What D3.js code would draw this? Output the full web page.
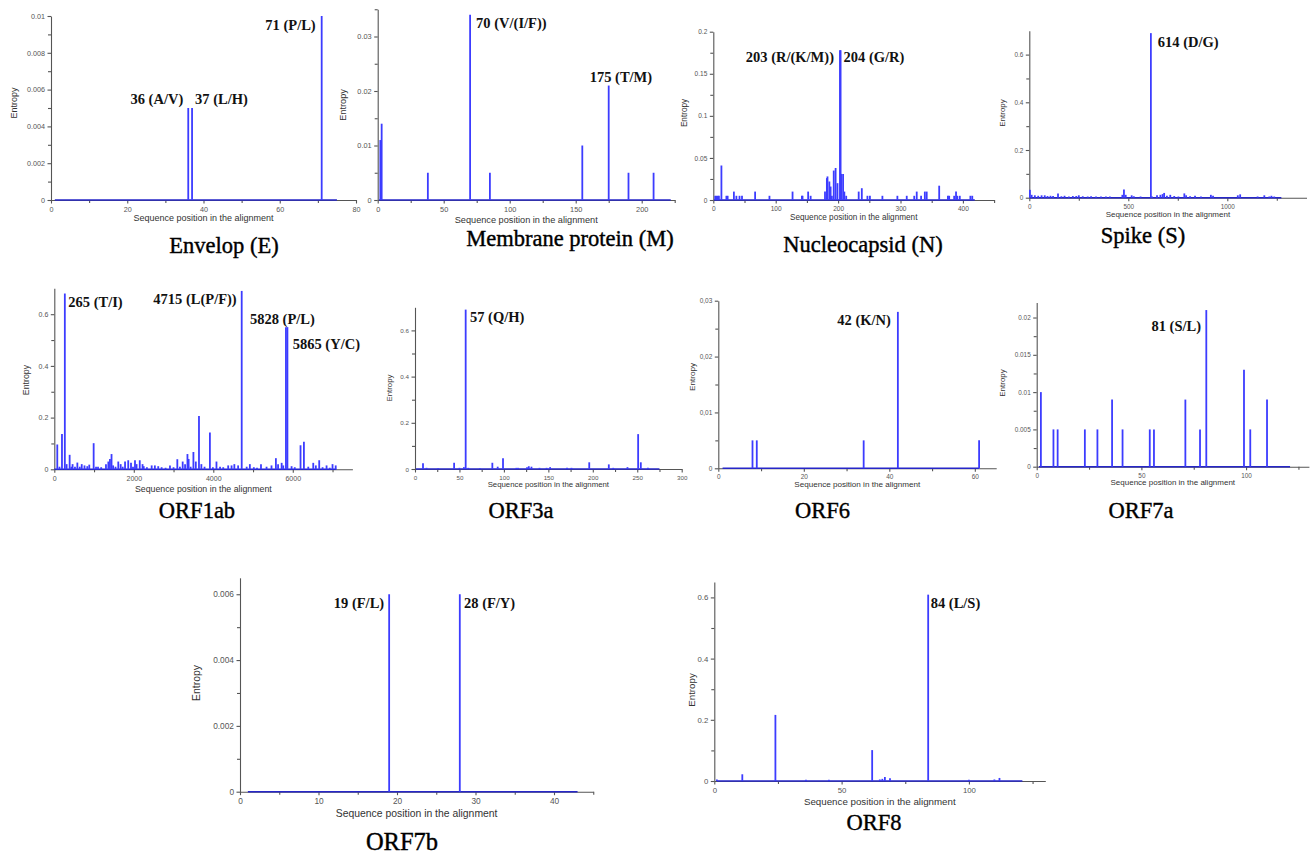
<!DOCTYPE html>
<html>
<head>
<meta charset="utf-8">
<script src="https://cdn.jsdelivr.net/npm/d3@7"></script>
<style>
  body { margin: 0; background: #fff; }
  svg { display: block; background: #fff; }
  .axis path, .axis line { stroke: #555; stroke-width: 1.1; }
  .axis text { font-family: "Liberation Sans", Arial, sans-serif; fill: #555; }
  .axis-label { font-family: "Liberation Sans", Arial, sans-serif; fill: #333; }
  .site-label { font-family: "Liberation Serif", "Times New Roman", serif; font-weight: bold; fill: #111; }
  .title { font-family: "Liberation Serif", "Times New Roman", serif; fill: #000; stroke: #000; stroke-width: 0.4; }
  .bar { stroke: #3c3cff; stroke-width: 1.8; }
  .zero { stroke: #2626c8; stroke-width: 1.5; }
</style>
</head>
<body>
<svg id="fig" width="1311" height="857"></svg>
<script>
// ---------- data (entropy per alignment position) ----------
const eSites = [36, 37, 71];
const eEntropy = [0.005, 0.005, 0.01];
const eLength = 75;
const eLabels = ["36 (A/V)", "37 (L/H)", "71 (P/L)"];
const eLabelSites = [36, 37, 71];

const mSites = [2, 3, 38, 70, 85, 155, 175, 190, 209];
const mEntropy = [0.011, 0.014, 0.005, 0.034, 0.005, 0.010, 0.021, 0.005, 0.005];
const mLength = 222;
const mLabels = ["70 (V/(I/F))", "175 (T/M)"];
const mLabelSites = [70, 175];

const nSites = [3, 5, 7, 9, 13, 21, 23, 33, 37, 42, 46, 67, 90, 127, 142, 143, 152, 156, 179, 182,
  183, 186, 188, 190, 193, 196, 199, 203, 204, 205, 208, 210, 213, 233, 238, 247, 251, 271, 295, 310,
  322, 326, 333, 339, 342, 362, 376, 378, 386, 389, 391, 395, 412, 415];
const nEntropy = [0.005, 0.005, 0.005, 0.005, 0.041, 0.005, 0.005, 0.01, 0.005, 0.005, 0.005, 0.01, 0.005, 0.01, 0.005, 0.005, 0.01, 0.005, 0.01, 0.026,
  0.028, 0.022, 0.016, 0.005, 0.035, 0.038, 0.02, 0.178, 0.178, 0.031, 0.031, 0.01, 0.005, 0.01, 0.014, 0.005, 0.005, 0.005, 0.005, 0.005,
  0.005, 0.01, 0.005, 0.01, 0.01, 0.017, 0.005, 0.005, 0.005, 0.01, 0.005, 0.005, 0.005, 0.005];
const nLength = 419;
const nLabels = ["203 (R/(K/M))", "204 (G/R)"];
const nLabelSites = [203, 204];

const sSites = [3, 12, 28, 45, 62, 78, 92, 107, 120, 145, 162, 178, 200, 220, 237, 250, 270, 295, 312, 337,
  362, 387, 407, 470, 478, 487, 517, 528, 562, 614, 620, 645, 662, 673, 681, 695, 712, 732, 753, 783,
  792, 812, 837, 867, 917, 928, 1053, 1065, 1153, 1187, 1212, 1223, 1237];
const sEntropy = [0.033, 0.012, 0.01, 0.008, 0.01, 0.01, 0.007, 0.008, 0.007, 0.018, 0.006, 0.008, 0.005, 0.007, 0.007, 0.01, 0.006, 0.005, 0.006, 0.005,
  0.005, 0.005, 0.005, 0.012, 0.034, 0.012, 0.01, 0.006, 0.005, 0.69, 0.005, 0.01, 0.012, 0.015, 0.02, 0.008, 0.012, 0.007, 0.005, 0.018,
  0.01, 0.006, 0.008, 0.005, 0.012, 0.008, 0.01, 0.014, 0.005, 0.01, 0.005, 0.008, 0.005];
const sLength = 1273;
const sLabels = ["614 (D/G)"];
const sLabelSites = [614];

const orf1abSites = [75, 130, 193, 265, 310, 386, 430, 460, 520, 580, 640, 690, 760, 830, 880, 990, 1050, 1100, 1180, 1300,
  1360, 1400, 1440, 1480, 1540, 1610, 1670, 1720, 1780, 1860, 1930, 1980, 2030, 2070, 2150, 2220, 2250, 2330, 2450, 2530,
  2615, 2700, 2800, 2910, 3000, 3095, 3160, 3230, 3290, 3350, 3380, 3430, 3500, 3560, 3640, 3700, 3780, 3915, 3990, 4080,
  4170, 4250, 4375, 4460, 4530, 4625, 4715, 4840, 4920, 5020, 5100, 5200, 5340, 5465, 5575, 5630, 5720, 5760, 5828, 5865,
  5970, 6050, 6195, 6280, 6390, 6515, 6580, 6665, 6750, 6850, 6930, 7000, 7080];
const orf1abEntropy = [0.096, 0.01, 0.137, 0.68, 0.02, 0.056, 0.01, 0.02, 0.01, 0.026, 0.01, 0.02, 0.015, 0.012, 0.018, 0.101, 0.01, 0.01, 0.008, 0.02,
  0.03, 0.04, 0.059, 0.015, 0.01, 0.03, 0.02, 0.01, 0.03, 0.035, 0.025, 0.01, 0.035, 0.02, 0.035, 0.02, 0.012, 0.008, 0.015, 0.015,
  0.012, 0.008, 0.006, 0.015, 0.008, 0.039, 0.01, 0.03, 0.02, 0.059, 0.04, 0.01, 0.067, 0.03, 0.206, 0.02, 0.01, 0.142, 0.008, 0.03,
  0.01, 0.008, 0.015, 0.015, 0.02, 0.015, 0.69, 0.01, 0.02, 0.008, 0.006, 0.02, 0.01, 0.015, 0.043, 0.02, 0.025, 0.015, 0.55, 0.55,
  0.012, 0.008, 0.093, 0.107, 0.01, 0.025, 0.015, 0.035, 0.008, 0.015, 0.006, 0.02, 0.015];
const orf1abLength = 7096;
const orf1abLabels = ["265 (T/I)", "4715 (L(P/F))", "5828 (P/L)", "5865 (Y/C)"];
const orf1abLabelSites = [265, 4715, 5828, 5865];

const orf3aSites = [9, 13, 26, 44, 50, 55, 57, 60, 73, 87, 93, 99, 114, 116, 126, 128, 131, 140, 148, 152,
  171, 176, 196, 218, 223, 239, 251, 254, 262];
const orf3aEntropy = [0.025, 0.005, 0.003, 0.027, 0.005, 0.008, 0.69, 0.005, 0.003, 0.027, 0.01, 0.046, 0.005, 0.005, 0.008, 0.012, 0.01, 0.005, 0.005, 0.008,
  0.005, 0.005, 0.029, 0.02, 0.005, 0.008, 0.151, 0.029, 0.005];
const orf3aLength = 275;
const orf3aLabels = ["57 (Q/H)"];
const orf3aLabelSites = [57];

const orf6Sites = [8, 9, 34, 42, 61];
const orf6Entropy = [0.005, 0.005, 0.005, 0.028, 0.005];
const orf6Length = 61;
const orf6Labels = ["42 (K/N)"];
const orf6LabelSites = [42];

const orf7aSites = [2, 8, 10, 23, 29, 36, 41, 54, 56, 71, 78, 81, 99, 102, 110];
const orf7aEntropy = [0.01, 0.005, 0.005, 0.005, 0.005, 0.009, 0.005, 0.005, 0.005, 0.009, 0.005, 0.021, 0.013, 0.005, 0.009];
const orf7aLength = 121;
const orf7aLabels = ["81 (S/L)"];
const orf7aLabelSites = [81];

const orf7bSites = [19, 28];
const orf7bEntropy = [0.006, 0.006];
const orf7bLength = 43;
const orf7bLabels = ["19 (F/L)", "28 (F/Y)"];
const orf7bLabelSites = [19, 28];

const orf8Sites = [1, 11, 24, 36, 45, 62, 65, 66, 67, 69, 84, 100, 110, 112];
const orf8Entropy = [0.005, 0.022, 0.216, 0.004, 0.004, 0.101, 0.005, 0.007, 0.013, 0.009, 0.609, 0.004, 0.005, 0.01];
const orf8Length = 121;
const orf8Labels = ["84 (L/S)"];
const orf8LabelSites = [84];

// tick values
const eXTicks = [0, 20, 40, 60, 80], eXMinor = [10, 30, 50, 70];
const eYTicks = [0, 0.002, 0.004, 0.006, 0.008, 0.01], eYMinor = [0.001, 0.003, 0.005, 0.007, 0.009];
const mXTicks = [0, 50, 100, 150, 200], mXMinor = [25, 75, 125, 175, 225];
const mYTicks = [0, 0.01, 0.02, 0.03], mYMinor = [0.005, 0.015, 0.025, 0.035];
const nXTicks = [0, 100, 200, 300, 400], nXMinor = [50, 150, 250, 350, 450];
const nYTicks = [0, 0.05, 0.1, 0.15, 0.2], nYMinor = [0.025, 0.075, 0.125, 0.175];
const sXTicks = [0, 500, 1000], sXMinor = [250, 750, 1250];
const bigYTicks = [0, 0.2, 0.4, 0.6], bigYMinor = [0.1, 0.3, 0.5];
const orf1abXTicks = [0, 2000, 4000, 6000], orf1abXMinor = [1000, 3000, 5000, 7000];
const orf3aXTicks = [0, 50, 100, 150, 200, 250, 300], orf3aXMinor = [25, 75, 125, 175, 225, 275];
const orf6XTicks = [0, 20, 40, 60], orf6XMinor = [10, 30, 50];
const orf6YTicks = [0, 0.01, 0.02, 0.03], orf6YMinor = [0.005, 0.015, 0.025];
const orf7aXTicks = [0, 50, 100], orf7aXMinor = [25, 75, 125];
const orf7aYTicks = [0, 0.005, 0.01, 0.015, 0.02], orf7aYMinor = [0.0025, 0.0075, 0.0125, 0.0175];
const orf7bXTicks = [0, 10, 20, 30, 40], orf7bXMinor = [5, 15, 25, 35, 45];
const orf7bYTicks = [0, 0.002, 0.004, 0.006], orf7bYMinor = [0.001, 0.003, 0.005];
const orf8XTicks = [0, 50, 100], orf8XMinor = [25, 75, 125];

// ---------- layout ----------
// lab: [anchor, dx, dy] for each site label, relative to the bar top
const panels = [
  { title: "Envelop (E)", tx: 224, ty: 253, sites: eSites, vals: eEntropy, len: eLength,
    labels: eLabels, labelSites: eLabelSites, lab: [["end", -5, -4], ["start", 3, -4], ["end", -6, 14]],
    xMax: 80, xRange: [51, 356], yMax: 0.01, yRange: [200, 16],
    xTicks: eXTicks, xMinor: eXMinor, yTicks: eYTicks, yMinor: eYMinor,
    fs: 9, yLabX: 14, yLabY: 103, xLabY: 221 },
  { title: "Membrane protein (M)", tx: 570, ty: 246, sites: mSites, vals: mEntropy, len: mLength,
    labels: mLabels, labelSites: mLabelSites, lab: [["start", 6, 13.5], ["start", -19, -4]],
    xMax: 225, xRange: [377.7, 674.7], yMax: 0.035, yRange: [200, 9.25],
    xTicks: mXTicks, xMinor: mXMinor, yTicks: mYTicks, yMinor: mYMinor,
    fs: 9.2, yLabX: 343, yLabY: 105, xLabY: 223 },
  { title: "Nucleocapsid (N)", tx: 863, ty: 251.7, sites: nSites, vals: nEntropy, len: nLength,
    labels: nLabels, labelSites: nLabelSites, lab: [["end", -6, 11.3], ["start", 3, 11.3]],
    xMax: 450, xRange: [713.3, 994.1], yMax: 0.2, yRange: [200, 31.7],
    xTicks: nXTicks, xMinor: nXMinor, yTicks: nYTicks, yMinor: nYMinor,
    fs: 8.2, yLabX: 684, yLabY: 113, xLabY: 219.5 },
  { title: "Spike (S)", tx: 1143, ty: 243, sites: sSites, vals: sEntropy, len: sLength,
    labels: sLabels, labelSites: sLabelSites, lab: [["start", 7, 13.6]],
    xMax: 1400, xRange: [1029.3, 1306.5], yMax: 0.7, yRange: [197.7, 30.75],
    xTicks: sXTicks, xMinor: sXMinor, yTicks: bigYTicks, yMinor: bigYMinor,
    fs: 8, yLabX: 1001.7, yLabY: 113, xLabY: 217 },
  { title: "ORF1ab", tx: 197, ty: 518, sites: orf1abSites, vals: orf1abEntropy, len: orf1abLength,
    labels: orf1abLabels, labelSites: orf1abLabelSites,
    lab: [["start", 3.5, 13.8], ["end", -5, 13.1], ["start", -36, -3], ["start", 5.3, 22]],
    xMax: 7500, xRange: [54.3, 352.4], yMax: 0.7, yRange: [469.3, 288.35],
    xTicks: orf1abXTicks, xMinor: orf1abXMinor, yTicks: bigYTicks, yMinor: bigYMinor,
    fs: 8.8, yLabX: 26, yLabY: 380, xLabY: 491.5 },
  { title: "ORF3a", tx: 521, ty: 518, sites: orf3aSites, vals: orf3aEntropy, len: orf3aLength,
    labels: orf3aLabels, labelSites: orf3aLabelSites, lab: [["start", 4.3, 12]],
    xMax: 300, xRange: [415, 681.7], yMax: 0.7, yRange: [469, 307.3],
    xTicks: orf3aXTicks, xMinor: orf3aXMinor, yTicks: bigYTicks, yMinor: bigYMinor,
    fs: 7.8, yLabX: 389.3, yLabY: 388, xLabY: 487 },
  { title: "ORF6", tx: 822.5, ty: 518, sites: orf6Sites, vals: orf6Entropy, len: orf6Length,
    labels: orf6Labels, labelSites: orf6LabelSites, lab: [["end", -7, 13.2]], comma: true,
    xMax: 65, xRange: [718.3, 996.2], yMax: 0.03, yRange: [468.3, 300.7],
    xTicks: orf6XTicks, xMinor: orf6XMinor, yTicks: orf6YTicks, yMinor: orf6YMinor,
    fs: 8.1, yLabX: 692, yLabY: 377, xLabY: 487 },
  { title: "ORF7a", tx: 1141, ty: 518, sites: orf7aSites, vals: orf7aEntropy, len: orf7aLength,
    labels: orf7aLabels, labelSites: orf7aLabelSites, lab: [["end", -5.3, 20.5]],
    xMax: 130, xRange: [1036.7, 1308.9], yMax: 0.022, yRange: [466.7, 302.6],
    xTicks: orf7aXTicks, xMinor: orf7aXMinor, yTicks: orf7aYTicks, yMinor: orf7aYMinor,
    fs: 8, yLabX: 1002.3, yLabY: 383, xLabY: 485 },
  { title: "ORF7b", tx: 402, ty: 850, titleSize: 24.5, sites: orf7bSites, vals: orf7bEntropy, len: orf7bLength,
    labels: orf7bLabels, labelSites: orf7bLabelSites, lab: [["end", -5, 14], ["start", 4.2, 14]],
    xMax: 45, xRange: [240, 593.25], yMax: 0.0065, yRange: [791.7, 577.8],
    xTicks: orf7bXTicks, xMinor: orf7bXMinor, yTicks: orf7bYTicks, yMinor: orf7bYMinor,
    fs: 10.4, yLabX: 196.7, yLabY: 683, xLabY: 816.5 },
  { title: "ORF8", tx: 874, ty: 830, sites: orf8Sites, vals: orf8Entropy, len: orf8Length,
    labels: orf8Labels, labelSites: orf8LabelSites, lab: [["start", 2.5, 13]],
    xMax: 130, xRange: [714.3, 1045.3], yMax: 0.65, yRange: [781, 582.1],
    xTicks: orf8XTicks, xMinor: orf8XMinor, yTicks: bigYTicks, yMinor: bigYMinor,
    fs: 9.75, yLabX: 692, yLabY: 690, xLabY: 805 }
];

const svg = d3.select("#fig");
const fmt = d3.format("~g");

function drawPanel(p) {
  const x = d3.scaleLinear().domain([0, p.xMax]).range(p.xRange);
  const y = d3.scaleLinear().domain([0, p.yMax]).range(p.yRange);
  const tickFs = p.fs * 0.8;
  const yFmt = p.comma ? d => fmt(d).replace(".", ",") : fmt;

  const g = svg.append("g");

  // minor ticks first, so main axes sit on top
  g.append("g")
    .attr("class", "axis")
    .attr("transform", `translate(0,${y(0)})`)
    .call(d3.axisBottom(x).tickValues(p.xMinor).tickSize(3).tickFormat(""))
    .call(a => a.select(".domain").remove());
  g.append("g")
    .attr("class", "axis")
    .attr("transform", `translate(${x(0)},0)`)
    .call(d3.axisLeft(y).tickValues(p.yMinor).tickSize(3).tickFormat(""))
    .call(a => a.select(".domain").remove());

  g.append("g")
    .attr("class", "axis")
    .attr("transform", `translate(0,${y(0)})`)
    .call(d3.axisBottom(x).tickValues(p.xTicks).tickFormat(fmt).tickSize(3.5).tickSizeOuter(0).tickPadding(3))
    .selectAll("text").style("font-size", tickFs + "px");

  g.append("g")
    .attr("class", "axis")
    .attr("transform", `translate(${x(0)},0)`)
    .call(d3.axisLeft(y).tickValues(p.yTicks).tickFormat(yFmt).tickSize(3.5).tickSizeOuter(0).tickPadding(2.5))
    .selectAll("text").style("font-size", tickFs + "px");

  // axis titles
  g.append("text")
    .attr("class", "axis-label")
    .attr("x", (p.xRange[0] + p.xRange[1]) / 2)
    .attr("y", p.xLabY)
    .attr("text-anchor", "middle")
    .style("font-size", p.fs + "px")
    .text("Sequence position in the alignment");

  g.append("text")
    .attr("class", "axis-label")
    .attr("transform", `translate(${p.yLabX},${p.yLabY}) rotate(-90)`)
    .attr("text-anchor", "middle")
    .attr("dy", "0.35em")
    .style("font-size", p.fs + "px")
    .text("Entropy");

  // zero-entropy positions
  g.append("line")
    .attr("class", "zero")
    .attr("x1", x(1)).attr("x2", x(p.len))
    .attr("y1", y(0)).attr("y2", y(0));

  // entropy bars
  g.selectAll(".bar")
    .data(d3.zip(p.sites, p.vals))
    .join("line")
    .attr("class", "bar")
    .attr("x1", d => x(d[0])).attr("x2", d => x(d[0]))
    .attr("y1", y(0)).attr("y2", d => y(d[1]));

  // site labels
  const valueAt = s => p.vals[p.sites.indexOf(s)];
  p.labels.forEach((t, i) => {
    const s = p.labelSites[i];
    const [anchor, dx, dy] = p.lab[i];
    g.append("text")
      .attr("class", "site-label")
      .attr("x", x(s) + dx)
      .attr("y", y(valueAt(s)) + dy)
      .attr("text-anchor", anchor)
      .style("font-size", "14.5px")
      .text(t);
  });

  // panel title
  g.append("text")
    .attr("class", "title")
    .attr("x", p.tx)
    .attr("y", p.ty)
    .attr("text-anchor", "middle")
    .style("font-size", (p.titleSize || 22.5) + "px")
    .text(p.title);
}

panels.forEach(drawPanel);
</script>
</body>
</html>
